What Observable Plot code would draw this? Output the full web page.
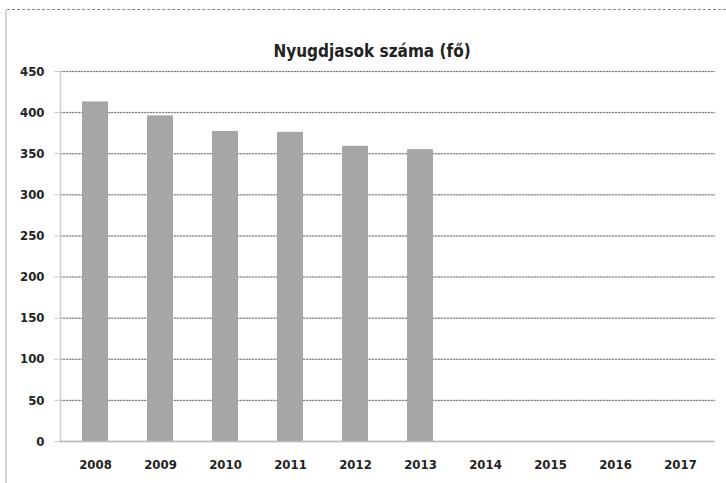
<!DOCTYPE html>
<html><head><meta charset="utf-8">
<script src="https://cdn.jsdelivr.net/npm/d3@7"></script>
<script src="https://cdn.jsdelivr.net/npm/@observablehq/plot@0.6"></script>
<style>
html,body{margin:0;padding:0;background:#fff;}
#wrap{position:relative;width:726px;height:483px;overflow:hidden;}
#bl{position:absolute;left:5px;top:10px;width:2px;height:473px;background:#d4d4d4;}
#bt{position:absolute;left:7px;top:9px;width:719px;height:0;border-top:1px dashed #888;}
#chart{position:absolute;left:0;top:0;}
</style></head>
<body><div id="wrap"><div id="chart"></div><div id="bl"></div><div id="bt"></div></div>
<script>
const title = "Nyugdjasok száma (fő)";
const years = ["2008","2009","2010","2011","2012","2013","2014","2015","2016","2017"];
const values = [413, 396, 377, 376, 359, 355, null, null, null, null];
const yTicks = [0, 50, 100, 150, 200, 250, 300, 350, 400, 450];

const data = years.map((y, i) => ({year: y, value: values[i]})).filter(d => d.value != null);
const font = "'DejaVu Sans Condensed','DejaVu Sans',sans-serif";

const plot = Plot.plot({
  width: 726, height: 483,
  marginTop: 71, marginBottom: 42, marginLeft: 60, marginRight: 11,
  style: {fontFamily: font, fontSize: "13px", fontWeight: "bold", color: "#222", background: "#fff"},
  x: {domain: years, paddingInner: 0.6, paddingOuter: 0.3, label: null, tickSize: 0, tickPadding: 18},
  y: {domain: [0, 450], ticks: yTicks, label: null},
  marks: [
    Plot.gridY(yTicks, {stroke: "#d8d8d8", strokeOpacity: 1, strokeWidth: 1.5}),
    Plot.gridY(yTicks, {stroke: "#555", strokeOpacity: 0.9, strokeWidth: 0.8, strokeDasharray: "2,1"}),
    Plot.barY(data, {x: "year", y: "value", fill: "#a6a6a6"}),
    Plot.axisY({ticks: yTicks, tickSize: 6, tickPadding: 10, stroke: "#ccc", label: null}),
    Plot.frame({anchor: "left", stroke: "#cfcfcf", strokeWidth: 1.5}),
    Plot.ruleY([0], {stroke: "#bbb", strokeWidth: 1.5}),
    Plot.text([title], {frameAnchor: "top", dy: -27, dx: -16, fontSize: 17, fontWeight: "bold", fill: "#222"})
  ]
});
document.getElementById("chart").appendChild(plot);
</script></body></html>
